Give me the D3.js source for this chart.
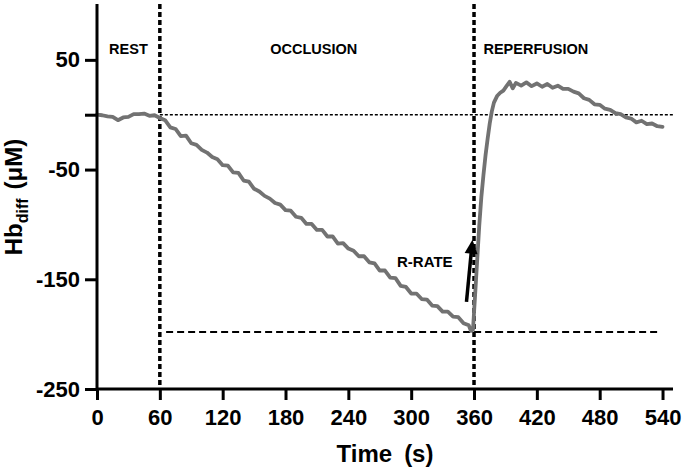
<!DOCTYPE html>
<html><head><meta charset="utf-8">
<script src="https://cdn.jsdelivr.net/npm/d3@7"></script>
<style>body{margin:0;background:#fff}svg{display:block}</style>
</head><body><svg id="c" width="684" height="472"></svg>
<script>
// ---- data ----
const times = [0,5,10,15,20,25,30,35,40,45,50,55,60,65,70,75,80,85,90,95,100,105,110,115,120,125,130,135,140,145,150,155,160,165,170,175,180,185,190,195,200,205,210,215,220,225,230,235,240,245,250,255,260,265,270,275,280,285,290,295,300,305,310,315,320,325,330,335,340,345,350,355,357,359,361,363,365,367,369,371,373,375,377,379,382,385,388,391,394,397,400,405,410,415,420,425,430,435,440,445,450,455,460,465,470,475,480,485,490,495,500,505,510,515,520,525,530,535,540];
const hbDiff = [0,-0.5,-1.5,-2,-5,-2.5,-2,0.5,0.5,1,-1,-0.5,-3,
-5,-11.5,-13,-19.5,-19,-26,-27.5,-32,-34.5,-38.5,-40.5,-46,-46.5,-52.5,-53,-60,-61,-67.5,-70,-74,-76.5,-80.5,-82,-87,-87.5,-93,-94,-99.5,-99.5,-105,-105,-111,-111,-117.5,-117,-122,-124,-129,-129,-134.5,-135.5,-142,-142,-148.5,-149,-156,-157,-163,-163,-168,-168.5,-174,-174.5,-179.5,-179.5,-184,-184.5,-190,-192,
-197,-196,-165,-133,-101,-75,-55,-37,-22,-8,3,11,17,20,22,26,30,24,29,
26.5,29.5,26,28.5,25.5,28,24.5,26.5,23.5,23.5,21,19.5,15,13.5,9.5,9,5.5,4.5,1.5,0.5,-2.5,-3.5,-7,-5.5,-8.5,-8,-10.5,-11];
const xTicks = [0,60,120,180,240,300,360,420,480,540];
const yTicks = [50,0,-50,-150,-250];
const yTickLabels = ["50","","-50","-150","-250"];
const phaseBoundaries = [60,360];
const phaseLabels = ["REST","OCCLUSION","REPERFUSION"];
const phaseLabelTimes = [30,207,419];
const phaseLabelValue = 55;
const baselineValue = 0;
const baselineRange = [60,550];
const minLineValue = -198;
const minLineRange = [66,537];
const rateLabel = "R-RATE";
const rateLabelPos = [313,-139];
const arrowFrom = [352.8,-170.6];
const arrowTo = [358.5,-114];

// ---- chart ----
const svg = d3.select("#c");
const x = d3.scaleLinear().domain([0,550]).range([97,673]);
const y = d3.scaleLinear().domain([-250,100]).range([389,5]);
const font = "'Liberation Sans', Arial, sans-serif";

// reference lines
phaseBoundaries.forEach(t => {
  svg.append("line").attr("x1",x(t)).attr("x2",x(t)).attr("y1",y(100)-1).attr("y2",y(-250))
    .attr("stroke","#000").attr("stroke-width",3.5).attr("stroke-dasharray","5,3");
});
svg.append("line").attr("x1",x(baselineRange[0])).attr("x2",x(baselineRange[1]))
  .attr("y1",y(baselineValue)).attr("y2",y(baselineValue))
  .attr("stroke","#000").attr("stroke-width",1.5).attr("stroke-dasharray","3,2");
svg.append("line").attr("x1",x(minLineRange[0])).attr("x2",x(minLineRange[1]))
  .attr("y1",y(minLineValue)).attr("y2",y(minLineValue))
  .attr("stroke","#000").attr("stroke-width",2).attr("stroke-dasharray","7,4");

// curve
const data = d3.zip(times, hbDiff);
svg.append("path").datum(data)
  .attr("d", d3.line().x(d=>x(d[0])).y(d=>y(d[1])))
  .attr("fill","none").attr("stroke","#727272").attr("stroke-width",3.8)
  .attr("stroke-linejoin","round").attr("stroke-linecap","round");

// axes
const xAxis = svg.append("g").attr("transform",`translate(0,${y(-250)})`)
  .call(d3.axisBottom(x).tickValues(xTicks).tickSize(11).tickPadding(9).tickFormat(d3.format("d")));
const yAxis = svg.append("g").attr("transform",`translate(${x(0)},0)`)
  .call(d3.axisLeft(y).tickValues(yTicks).tickSize(12).tickPadding(5)
    .tickFormat((d,i)=>yTickLabels[i]));
[xAxis,yAxis].forEach(g=>{
  g.select(".domain").attr("stroke","#000").attr("stroke-width",3);
  g.selectAll(".tick line").attr("stroke","#000").attr("stroke-width",3);
  g.selectAll("text").attr("fill","#000").style("font-family",font)
    .style("font-weight","bold").style("font-size","22px");
});
xAxis.select(".domain").attr("d",`M${x(0)},0H${x(550)}`);
yAxis.select(".domain").attr("d",`M0,${y(-250)}V${y(100)-1}`);

// phase labels
phaseLabels.forEach((s,i)=>{
  svg.append("text").attr("x",x(phaseLabelTimes[i])).attr("y",y(phaseLabelValue))
    .attr("text-anchor","middle").style("font-family",font).style("font-weight","bold")
    .style("font-size","14.5px").text(s);
});
svg.append("text").attr("x",x(rateLabelPos[0])).attr("y",y(rateLabelPos[1]))
  .attr("text-anchor","middle").style("font-family",font).style("font-weight","bold")
  .style("font-size","15px").text(rateLabel);

// arrow
const ax0 = x(arrowFrom[0]), ay0 = y(arrowFrom[1]), ax1 = x(arrowTo[0]), ay1 = y(arrowTo[1]);
const dx = ax1-ax0, dy = ay1-ay0, L = Math.hypot(dx,dy), ux = dx/L, uy = dy/L;
const hl = 14, hw = 6.5;
const bx = ax1-ux*hl, by = ay1-uy*hl;
svg.append("line").attr("x1",ax0).attr("y1",ay0).attr("x2",bx+ux*2).attr("y2",by+uy*2)
  .attr("stroke","#000").attr("stroke-width",3.5);
svg.append("path").attr("d",`M${ax1},${ay1}L${bx-uy*hw},${by+ux*hw}L${bx+uy*hw},${by-ux*hw}Z`)
  .attr("fill","#000");

// axis titles
svg.append("text").attr("x",x(275)).attr("y",461.5).attr("text-anchor","middle")
  .style("font-family",font).style("font-weight","bold").style("font-size","24px")
  .call(t=>{ t.append("tspan").text("Time"); t.append("tspan").attr("dx",12).text("(s)"); });
const yt = svg.append("text").attr("transform",`translate(22,197) rotate(-90)`)
  .attr("text-anchor","middle").style("font-family",font).style("font-weight","bold").style("font-size","24px");
yt.append("tspan").text("Hb");
yt.append("tspan").attr("dy",6).style("font-size","16px").text("diff");
yt.append("tspan").attr("dy",-6).attr("dx",9).text("(μM)");
</script>
</body></html>
